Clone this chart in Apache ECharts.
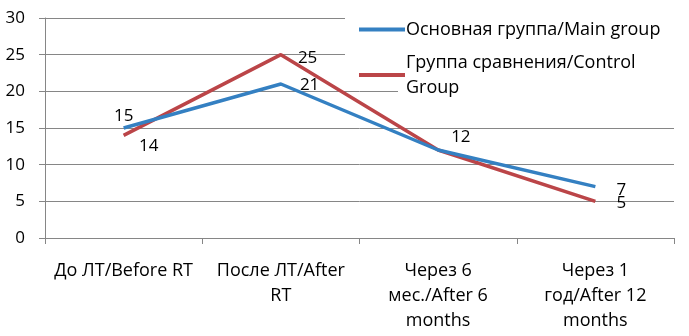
<!DOCTYPE html>
<html>
<head>
<meta charset="utf-8">
<script src="https://cdn.jsdelivr.net/npm/echarts@6/dist/echarts.min.js"></script>
<style>
  html, body { margin: 0; padding: 0; background: #fff; }
  #chart { width: 689px; height: 336px; }
</style>
</head>
<body>
<div id="chart"></div>
<script>
// tick labels as printed under the x axis
const categories = [
  'До ЛТ/Before RT',
  'После ЛТ/After\nRT',
  'Через 6\nмес./After 6\nmonths',
  'Через 1\nгод/After 12\nmonths'
];
const seriesNames = ['Основная группа/Main group', 'Группа сравнения/Control Group'];
const mainGroup = [15, 21, 12, 7];
const controlGroup = [14, 25, 12, 5];

const FONT = '"Open Sans", Lato, sans-serif';
const colors = ['#3480c2', '#bb4548'];

// label placement per point (style only)
const mainLabels = [
  { position: 'top', offset: [0, 2] },
  { position: 'right', offset: [14, 1] },
  { position: 'right', offset: [8, -13] },
  { position: 'right', offset: [16, 3] }
];
const controlLabels = [
  { position: 'bottom', offset: [25, -3] },
  { position: 'right', offset: [12, 3] },
  { show: false },
  { position: 'right', offset: [16, 2] }
];

function build(values, labels) {
  return values.map((v, i) => ({ value: v, label: labels[i] }));
}

const chart = echarts.init(document.getElementById('chart'));
chart.setOption({
  backgroundColor: '#fff',
  animation: false,
  color: colors,
  textStyle: { fontFamily: FONT },
  grid: { left: 45, right: 15, top: 18, bottom: 98 },
  graphic: [
    { type: 'rect', left: 345, top: 0, shape: { width: 344, height: 80 }, style: { fill: '#fff' }, z: 50 },
    { type: 'rect', left: 398, top: 80, shape: { width: 291, height: 20 }, style: { fill: '#fff' }, z: 50 }
  ],
  legend: {
    orient: 'vertical',
    left: 354,
    top: 12,
    itemWidth: 46,
    itemHeight: 4,
    itemGap: 8,
    z: 60,
    icon: 'rect',
    formatter: name => name.replace('Control Group', 'Control\nGroup'),
    textStyle: { fontFamily: FONT, fontSize: 18, color: '#000', lineHeight: 25, padding: [0, 0, 0, -4] },
    data: seriesNames
  },
  xAxis: {
    type: 'category',
    data: categories,
    boundaryGap: true,
    axisLine: { lineStyle: { color: '#868686', width: 1 } },
    axisTick: { show: true, length: 6, inside: false, lineStyle: { color: '#868686' } },
    axisLabel: {
      interval: 0,
      margin: 20,
      color: '#000',
      fontFamily: FONT,
      fontSize: 18,
      lineHeight: 25,
      align: 'center'
    },
    splitLine: { show: false }
  },
  yAxis: {
    type: 'value',
    min: 0,
    max: 30,
    interval: 5,
    axisLine: { show: true, lineStyle: { color: '#868686', width: 1 } },
    axisTick: { show: true, length: 6, lineStyle: { color: '#868686' } },
    axisLabel: { color: '#000', fontFamily: FONT, fontSize: 17, margin: 20 },
    splitLine: { show: true, lineStyle: { color: '#868686', width: 1 } }
  },
  series: [
    {
      name: seriesNames[0],
      type: 'line',
      data: build(mainGroup, mainLabels),
      showSymbol: true,
      symbol: 'circle',
      symbolSize: 0,
      lineStyle: { width: 3.5, color: colors[0] },
      label: { show: true, color: '#000', fontFamily: FONT, fontSize: 17 },
      z: 3
    },
    {
      name: seriesNames[1],
      type: 'line',
      data: build(controlGroup, controlLabels),
      showSymbol: true,
      symbol: 'circle',
      symbolSize: 0,
      lineStyle: { width: 3.5, color: colors[1] },
      label: { show: true, color: '#000', fontFamily: FONT, fontSize: 17 },
      z: 2
    }
  ]
});
</script>
</body>
</html>
